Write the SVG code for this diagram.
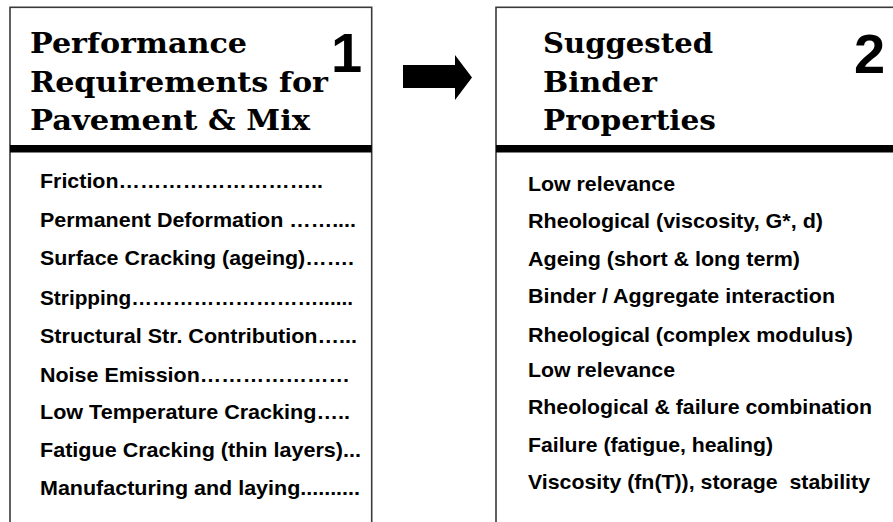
<svg xmlns="http://www.w3.org/2000/svg" width="893" height="522" viewBox="0 0 893 522">
<style>
.box{fill:#fff;stroke:#3a3a3a;stroke-width:1.6}
.bar{stroke:#000;stroke-width:7.5}
.title{font-family:"DejaVu Serif","Liberation Serif",serif;font-weight:bold;font-size:27.5px;fill:#000}
.num{font-family:"Liberation Sans",Arial,sans-serif;font-weight:bold;font-size:56px;fill:#000}
.item{font-family:"Liberation Sans",Arial,sans-serif;font-weight:bold;font-size:20.5px;fill:#000}
</style>
<rect width="893" height="522" fill="#fff"/>
<g id="node1">
<rect class="box" x="10" y="7.3" width="361.7" height="530"/>
<line class="bar" x1="10" y1="148.8" x2="371.7" y2="148.8"/>
<text class="title" x="30" y="53" textLength="217" lengthAdjust="spacingAndGlyphs">Performance</text>
<text class="title" x="30" y="92" textLength="298" lengthAdjust="spacingAndGlyphs">Requirements for</text>
<text class="title" x="30" y="130" textLength="280" lengthAdjust="spacingAndGlyphs">Pavement &amp; Mix</text>
<text class="num" x="331" y="71.7">1</text>
<text class="item" x="40" y="188.3" textLength="283" lengthAdjust="spacingAndGlyphs">Friction………………………..</text>
<text class="item" x="40" y="226.5" textLength="316" lengthAdjust="spacingAndGlyphs">Permanent Deformation ……....</text>
<text class="item" x="40" y="265" textLength="314" lengthAdjust="spacingAndGlyphs">Surface Cracking (ageing)…….</text>
<text class="item" x="40" y="304.5" textLength="313" lengthAdjust="spacingAndGlyphs">Stripping………………………......</text>
<text class="item" x="40" y="343" textLength="317" lengthAdjust="spacingAndGlyphs">Structural Str. Contribution…...</text>
<text class="item" x="40" y="381.5" textLength="310" lengthAdjust="spacingAndGlyphs">Noise Emission…………………</text>
<text class="item" x="40" y="419" textLength="310" lengthAdjust="spacingAndGlyphs">Low Temperature Cracking…..</text>
<text class="item" x="40" y="457" textLength="321" lengthAdjust="spacingAndGlyphs">Fatigue Cracking (thin layers)...</text>
<text class="item" x="40" y="495" textLength="320" lengthAdjust="spacingAndGlyphs">Manufacturing and laying..........</text>
</g>
<g id="node2">
<rect class="box" x="496" y="7.3" width="420" height="530"/>
<line class="bar" x1="496" y1="148.8" x2="893" y2="148.8"/>
<text class="title" x="543" y="53" textLength="170" lengthAdjust="spacingAndGlyphs">Suggested</text>
<text class="title" x="543" y="92" textLength="114" lengthAdjust="spacingAndGlyphs">Binder</text>
<text class="title" x="543" y="130" textLength="173" lengthAdjust="spacingAndGlyphs">Properties</text>
<text class="num" x="854" y="72.5">2</text>
<text class="item" x="528" y="190.5" textLength="147" lengthAdjust="spacingAndGlyphs">Low relevance</text>
<text class="item" x="528" y="228" textLength="295" lengthAdjust="spacingAndGlyphs">Rheological (viscosity, G*, d)</text>
<text class="item" x="528" y="266" textLength="272" lengthAdjust="spacingAndGlyphs">Ageing (short &amp; long term)</text>
<text class="item" x="528" y="303" textLength="307" lengthAdjust="spacingAndGlyphs">Binder / Aggregate interaction</text>
<text class="item" x="528" y="341.7" textLength="325" lengthAdjust="spacingAndGlyphs">Rheological (complex modulus)</text>
<text class="item" x="528" y="376.7" textLength="147" lengthAdjust="spacingAndGlyphs">Low relevance</text>
<text class="item" x="528" y="414" textLength="344" lengthAdjust="spacingAndGlyphs">Rheological &amp; failure combination</text>
<text class="item" x="528" y="451.7" textLength="245" lengthAdjust="spacingAndGlyphs">Failure (fatigue, healing)</text>
<text class="item" x="528" y="489" textLength="342" lengthAdjust="spacingAndGlyphs">Viscosity (fn(T)), storage&#160; stability</text>
</g>
<g id="connectors">
<polygon points="403,65 455,65 455,55 472,77.5 455,100 455,88 403,88" fill="#000"/>
</g>
</svg>
